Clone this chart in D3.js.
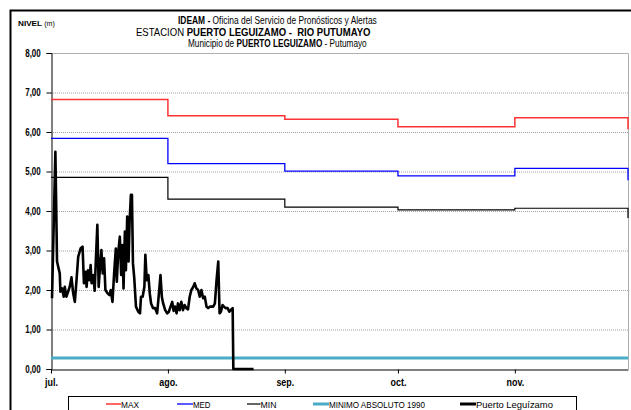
<!DOCTYPE html>
<html><head><meta charset="utf-8">
<script src="https://cdn.jsdelivr.net/npm/d3@7"></script>
<style>
html,body{margin:0;padding:0;background:#fff;}
svg{display:block;}
text{font-family:"Liberation Sans",Arial,sans-serif;}
</style></head>
<body><svg id="c" width="631" height="410"></svg>
<script>
// ---- data ----
const monthLabels = ["jul.","ago.","sep.","oct.","nov."];
const monthStartDay = [0, 31, 62, 92, 123];
const endDay = 153;
const maxVals = [6.82, 6.41, 6.32, 6.13, 6.36];
const maxEnd = 6.07;
const medVals = [5.84, 5.20, 5.01, 4.89, 5.08];
const medEnd = 4.78;
const minVals = [4.85, 4.30, 4.10, 4.03, 4.07];
const minEnd = 3.82;
const minimoAbsoluto1990 = 0.28;
const yTicks = [0,1,2,3,4,5,6,7,8];
const obsDay = [0.27,1.16,1.60,2.32,2.49,2.94,3.38,3.65,4.10,4.54,4.99,5.43,5.88,6.32,6.77,7.21,7.84,8.37,8.73,9.17,9.44,9.80,10.15,10.51,10.77,11.22,11.58,11.93,12.29,12.64,13.00,13.36,13.71,14.07,14.43,14.96,15.49,15.85,16.30,16.74,17.19,17.45,17.81,18.25,18.61,18.97,19.23,19.59,19.86,20.21,20.57,20.84,21.19,21.46,21.73,22.08,22.53,23.15,23.60,23.86,24.31,24.76,25.02,25.38,25.82,26.18,26.54,27.07,27.60,28.14,28.58,29.03,29.39,29.74,30.28,30.81,31.26,31.70,32.15,32.50,32.86,33.30,33.66,34.10,34.55,35.00,35.44,35.89,36.33,36.78,37.22,37.67,38.11,38.56,39.00,39.45,39.89,40.34,40.78,41.23,41.67,42.12,42.56,43.01,43.46,43.90,44.35,44.70,45.06,45.50,45.86,46.30,46.84,47.28,47.64,48.17,48.35,53.70];
const obsLevel = [1.79,5.50,2.72,2.42,1.96,2.04,1.83,2.08,1.83,1.96,2.09,2.32,1.92,1.70,2.25,2.84,3.05,3.10,2.17,2.46,2.08,2.50,2.25,2.63,2.17,2.38,1.98,2.84,3.65,2.08,2.59,3.01,2.42,2.80,2.00,1.92,1.87,2.00,1.70,2.42,3.05,2.21,2.93,3.35,2.38,3.14,2.04,3.48,2.50,3.86,2.72,3.73,4.41,4.41,2.68,2.30,1.58,1.45,1.41,1.83,1.83,2.08,2.89,2.25,2.38,1.92,1.66,1.54,1.54,1.41,1.87,2.38,1.83,1.66,1.49,1.41,1.45,1.58,1.70,1.47,1.58,1.41,1.66,1.49,1.70,1.49,1.62,1.54,1.51,1.83,2.00,2.07,2.17,2.04,2.00,1.83,2.00,1.79,1.83,1.58,1.54,1.58,1.58,1.58,1.66,2.25,2.72,1.41,1.45,1.62,1.58,1.54,1.54,1.45,1.49,1.54,0.00,0.00];

// ---- layout ----
const svg = d3.select("#c");
const L = 51, R = 628, T = 53, B = 369;
const x = d3.scaleLinear().domain([0, endDay]).range([L, R]);
const y = d3.scaleLinear().domain([0, 8]).range([B, T]);

// outer frame
svg.append("path").attr("d","M10.5,410 V10.5 H631").attr("fill","none").attr("stroke","#000").attr("stroke-width",2);

// condensed text helper: places text so that it starts at x0 and spans width w
function fitText(parent, x0, yb, w, size, build, anchor){
  const g = parent.append("g");
  const t = g.append("text").attr("x",0).attr("y",0).attr("font-size",size).style("white-space","pre");
  build(t);
  const len = t.node().getComputedTextLength();
  const sx = w/len;
  const tx = anchor==="end" ? x0 - w : x0;
  g.attr("transform",`translate(${tx},${yb}) scale(${sx},1)`);
  return g;
}

// titles
fitText(svg,18,26,37,8,t=>{t.append("tspan").attr("font-weight","bold").text("NIVEL ");t.append("tspan").attr("font-size",7).text("(m)");});
const tl = [
  {parts:[["IDEAM - ","bold"],["Oficina del Servicio de Pronósticos y Alertas","normal"]], x0:178, w:199, yb:24},
  {parts:[["ESTACION ","normal"],["PUERTO LEGUIZAMO -  RIO PUTUMAYO","bold"]], x0:136, w:235, yb:35.5},
  {parts:[["Municipio de ","normal"],["PUERTO LEGUIZAMO","bold"],[" - Putumayo","normal"]], x0:188, w:179, yb:47}
];
tl.forEach(l=>fitText(svg,l.x0,l.yb,l.w,10.5,t=>l.parts.forEach(p=>t.append("tspan").attr("font-weight",p[1]).text(p[0]))));

// gridlines
svg.append("g").selectAll("line").data(yTicks.filter(v=>v>0&&v<8)).join("line")
  .attr("x1",L).attr("x2",R).attr("y1",d=>y(d)+0.5).attr("y2",d=>y(d)+0.5)
  .attr("stroke","#a0a0a0").attr("stroke-width",1).attr("stroke-dasharray","1,1");
// plot border top/right
svg.append("path").attr("d",`M${L},${y(8)+0.5} H${R+0.5} V${B}`).attr("fill","none").attr("stroke","#b0b0b0").attr("stroke-width",1);

// axes
const fmt = v => d3.format(".2f")(v).replace(".",",");
const ySx = 0.76;
const ya = svg.append("g").attr("transform",`translate(${L+0.5},0)`)
  .call(d3.axisLeft(y).tickValues(yTicks).tickFormat(fmt).tickSize(5).tickPadding(5));
ya.select(".domain").attr("stroke","#000");
ya.selectAll("text").attr("font-size",10.5).attr("font-weight","bold").attr("fill","#000")
  .attr("x",-10.8/ySx).attr("transform",`scale(${ySx},1)`);
const xSx = 0.85;
const xa = svg.append("g").attr("transform",`translate(0,${B+0.5})`)
  .call(d3.axisBottom(x).tickValues(monthStartDay).tickFormat((d,i)=>monthLabels[i]).tickSize(4).tickSizeOuter(0).tickPadding(5));
xa.select(".domain").attr("stroke","#000");
xa.selectAll("text").attr("font-size",10.5).attr("font-weight","bold").attr("fill","#000").attr("transform",`scale(${xSx},1)`);

// step lines
const stepLine = d3.line().x(d=>x(d[0])).y(d=>y(d[1])).curve(d3.curveStepAfter);
function stepData(vals,endV){ const a = monthStartDay.map((d,i)=>[d,vals[i]]); a.push([endDay,endV]); return a; }
svg.append("path").attr("d",stepLine(stepData(maxVals,maxEnd))).attr("fill","none").attr("stroke","#ff3333").attr("stroke-width",1.5);
svg.append("path").attr("d",stepLine(stepData(medVals,medEnd))).attr("fill","none").attr("stroke","#0000ff").attr("stroke-width",1.3);
svg.append("path").attr("d",stepLine(stepData(minVals,minEnd))).attr("fill","none").attr("stroke","#000").attr("stroke-width",1.2);
svg.append("path").attr("d",d3.line().x(d=>x(d[0])).y(d=>y(d[1]))([[0,minimoAbsoluto1990],[endDay,minimoAbsoluto1990]]))
  .attr("fill","none").attr("stroke","#4bacc6").attr("stroke-width",3);
const obs = obsDay.map((d,i)=>[d,obsLevel[i]]);
svg.append("path").attr("d",d3.line().x(d=>x(d[0])).y(d=>y(d[1]))(obs))
  .attr("fill","none").attr("stroke","#000").attr("stroke-width",2.6).attr("stroke-linejoin","round");

// legend
svg.append("rect").attr("x",68.5).attr("y",396.5).attr("width",508).attr("height",20).attr("fill","#fff").attr("stroke","#000").attr("stroke-width",1);
const legendItems = [
  {name:"MAX", color:"#ff3333", w:1.5, lx:106, tx:121, tw:18},
  {name:"MED", color:"#0000ff", w:1.3, lx:177, tx:193, tw:17.5},
  {name:"MIN", color:"#000", w:1.2, lx:247, tx:260.5, tw:16},
  {name:"MINIMO ABSOLUTO 1990", color:"#4bacc6", w:3, lx:313, tx:329, tw:96},
  {name:"Puerto Leguízamo", color:"#000", w:3, lx:460, tx:476, tw:77}
];
const lgG = svg.append("g");
legendItems.forEach(d=>{
  lgG.append("line").attr("x1",d.lx).attr("x2",d.tx).attr("y1",404).attr("y2",404).attr("stroke",d.color).attr("stroke-width",d.w);
  fitText(lgG,d.tx,407.5,d.tw,9,t=>t.text(d.name));
});
</script></body></html>
